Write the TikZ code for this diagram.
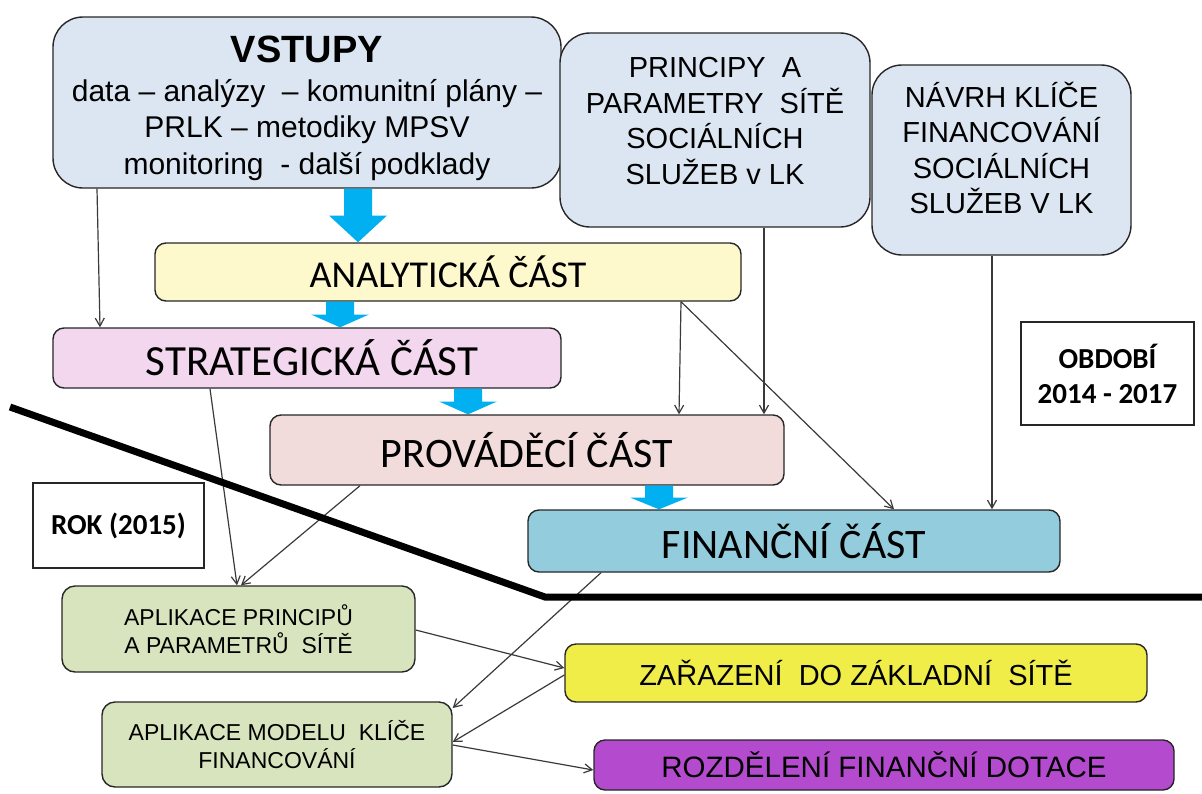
\documentclass[tikz,border=0pt]{standalone}
\usepackage{fontspec}
\setmainfont{Carlito}
\newfontfamily\arialfont{Liberation Sans}
\usetikzlibrary{calc,arrows.meta}

\definecolor{inblue}{HTML}{DCE6F2}
\definecolor{anyellow}{HTML}{FEF9CD}
\definecolor{stpink}{HTML}{F2D7EE}
\definecolor{prrose}{HTML}{F2DCDB}
\definecolor{fiblue}{HTML}{93CDDD}
\definecolor{apgreen}{HTML}{D7E4BD}
\definecolor{zayellow}{HTML}{F0EC48}
\definecolor{ropurple}{HTML}{B44BCE}
\definecolor{flowblue}{HTML}{00B0F0}
\definecolor{linegray}{HTML}{3A3A3A}

\begin{document}
\begin{tikzpicture}[x=1pt,y=-1pt,
  box/.style={draw=black!85, line width=1.4pt, rounded corners=11pt, inner sep=0pt},
  bigbox/.style={box, rounded corners=30pt, fill=inblue},
  bigtext/.style={align=center, inner sep=0pt, font=\arialfont\fontsize{29}{35.5}\selectfont},
  partbox/.style={box, font=\fontsize{42}{48}\selectfont},
  greenbox/.style={box, fill=apgreen, rounded corners=13pt, align=center,
    font=\arialfont\fontsize{23}{28}\selectfont},
  framebox/.style={draw=black!85, line width=1.4pt, inner sep=0pt, align=center,
    font=\bfseries\fontsize{29}{35}\selectfont},
  link/.style={draw=linegray, line width=1.2pt, -{Straight Barb[length=8pt,width=9pt]}}]

\useasboundingbox (0,0) rectangle (1202,793);

% Input boxes at the top
\node[bigbox, minimum width=508, minimum height=171,
  label={[bigtext, yshift=-6pt, font=\arialfont\fontsize{30}{36.5}\selectfont]center:%
   {\fontsize{38}{42}\selectfont\bfseries VSTUPY}\\[2pt]
   data – analýzy \ – komunitní plány –\\
   PRLK – metodiky MPSV\\
   monitoring \ - další podklady}] (vstupy) at (307,102.5) {};
\node[bigbox, minimum width=310, minimum height=194,
  label={[bigtext, yshift=9pt]center:PRINCIPY \ A\\ PARAMETRY \ SÍTĚ\\ SOCIÁLNÍCH\\ SLUŽEB v LK}]
  (principy) at (715,130) {};
\node[bigbox, minimum width=259, minimum height=190,
  label={[bigtext, yshift=12pt]center:NÁVRH KLÍČE\\ FINANCOVÁNÍ\\ SOCIÁLNÍCH\\ SLUŽEB V LK}]
  (navrh) at (1001.5,160) {};

% Parts of the plan
\node[partbox, fill=anyellow, minimum width=586, minimum height=58,
  font=\fontsize{38}{44}\selectfont] (analyticka) at (448,272) {ANALYTICKÁ ČÁST};
\node[partbox, fill=stpink, minimum width=508, minimum height=60,
  font=\fontsize{43}{48}\selectfont] (strategicka) at (307,358) {\hspace{10pt}STRATEGICKÁ ČÁST};
\node[partbox, fill=prrose, minimum width=514, minimum height=70] (provadeci) at (527,450) {PROVÁDĚCÍ ČÁST};
\node[partbox, fill=fiblue, minimum width=532, minimum height=62] (financni) at (794,541) {FINANČNÍ ČÁST};

% Period labels
\node[framebox, minimum width=173, minimum height=103] (obdobi) at (1107.5,373.5) {OBDOBÍ\\ 2014 - 2017};
\node[framebox, minimum width=171, minimum height=85] (rok) at (118.5,525.5) {ROK (2015)};

% Outputs at the bottom
\node[greenbox, minimum width=353, minimum height=86] (aplprinc) at (238.5,629)
  {APLIKACE PRINCIPŮ\\ A PARAMETRŮ \ SÍTĚ};
\node[greenbox, minimum width=350, minimum height=85] (aplmodel) at (277,744.5)
  {APLIKACE MODELU \ KLÍČE\\ FINANCOVÁNÍ};
\node[box, fill=zayellow, minimum width=582, minimum height=58,
  font=\arialfont\fontsize{29}{34}\selectfont] (zarazeni) at (856,673) {ZAŘAZENÍ \ DO ZÁKLADNÍ \ SÍTĚ};
\node[box, fill=ropurple, minimum width=580, minimum height=50,
  font=\arialfont\fontsize{29.5}{34}\selectfont] (rozdeleni) at (884,765) {ROZDĚLENÍ FINANČNÍ DOTACE};

% Block arrows between the parts
\foreach \from/\to/\xa in {vstupy/analyticka/358, analyticka/strategicka/340,
    strategicka/provadeci/468, provadeci/financni/659} {
  \coordinate (t) at (\xa,0 |- \from.south);
  \coordinate (b) at (\xa,0 |- \to.north);
  \coordinate (m) at ($(t)!0.5!(b)$);
  \fill[flowblue] ($(t)+(-14,0)$) -- ($(t)+(14,0)$) -- ($(m)+(14,0)$) -- ($(m)+(29,0)$)
    -- (b) -- ($(m)+(-29,0)$) -- ($(m)+(-14,0)$) -- cycle;
}

% Thin connectors
\draw[link] (97,0 |- vstupy.south) -- (100,0 |- strategicka.north);
\draw[link] (681,0 |- analyticka.south) -- (679,0 |- provadeci.north);
\draw[link] (681,0 |- analyticka.south) -- (894,0 |- financni.north);
\draw[link] (764,0 |- principy.south) -- (764,0 |- provadeci.north);
\draw[link] (992,0 |- navrh.south) -- (992,0 |- financni.north);
\draw[link] (210,0 |- strategicka.south) -- (237,0 |- aplprinc.north);
\draw[link] (360,0 |- provadeci.south) -- (241,0 |- aplprinc.north);
\draw[link] (aplprinc.east |- 0,630) -- (zarazeni.west |- 0,668);
\draw[link] (601,0 |- financni.south) -- (aplmodel.east |- 0,708);
\draw[link] (zarazeni.west |- 0,675) -- (aplmodel.east |- 0,742);
\draw[link] (aplmodel.east |- 0,745) -- (rozdeleni.west |- 0,770);

% Thick dividing line
\draw[line width=7pt] (10,407) -- (545,597) -- (1202,597);

\end{tikzpicture}
\end{document}
